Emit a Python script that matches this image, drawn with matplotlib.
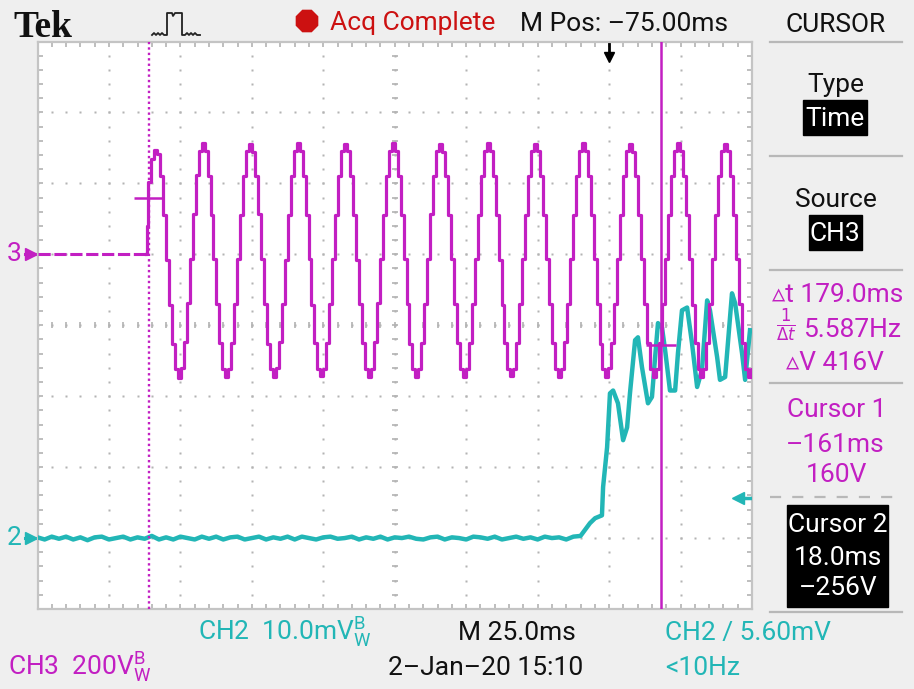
import numpy as np
import matplotlib
matplotlib.use("Agg")
import matplotlib.pyplot as plt
from matplotlib.patches import Rectangle, RegularPolygon
from matplotlib.transforms import blended_transform_factory, IdentityTransform

# ---------------- data ----------------
time_range_ms = [-200.0, 50.0]      # 10 div x 25 ms, centre at M Pos -75 ms
ms_per_div = 25.0
m_pos_ms = -75.00
ch3_volts_per_div = 200.0
ch2_mv_per_div = 10.0
ch3_offset_div = 1.0
ch2_offset_div = -3.0

# CH3 (magenta) - flat before the event, then 60 Hz mains
ch3_pre_t = [-200.0, -161.9]
ch3_pre_v = [0.0, 0.0]
ch3_t0 = -161.8          # first sample time (ms)
ch3_dt = 1.039           # sample spacing on the screen (ms)
ch3_volts = [
    80, 205, 268,
    293, 284, 222, 110, -16, -142, -252, -324, -348, -320, -248, -138, -12, 114, 224, 292,
    313, 290, 220, 112, -14, -140, -250, -322, -346, -322, -250, -140, -14, 112, 222, 290,
    312, 288, 222, 114, -12, -140, -252, -324, -346, -320, -248, -140, -16, 110, 220, 290,
    314, 290, 220, 112, -14, -142, -250, -322, -344, -322, -250, -140, -14, 112, 222, 292,
    312, 290, 222, 110, -16, -140, -250, -322, -346, -322, -248, -138, -14, 112, 222, 290,
    313, 290, 220, 112, -14, -140, -252, -324, -346, -322, -250, -140, -12, 114, 222, 290,
    312, 288, 222, 112, -14, -140, -250, -322, -346, -322, -250, -140, -14, 112, 220, 290,
    314, 290, 220, 112, -16, -142, -250, -322, -344, -322, -250, -140, -14, 112, 222, 292,
    312, 290, 222, 110, -14, -140, -250, -324, -346, -322, -248, -140, -14, 112, 222, 290,
    313, 290, 220, 112, -14, -140, -252, -322, -346, -320, -250, -140, -14, 112, 222, 290,
    312, 288, 222, 112, -14, -140, -250, -322, -346, -322, -250, -140, -14, 112, 220, 290,
    314, 290, 220, 112, -14, -142, -250, -322, -346, -322, -250, -140, -14, 112, 222, 292,
    312, 290, 222, 112, -14, -140, -250, -322, -346, -324,
]

# CH2 (cyan) - noisy baseline, then the step response
ch2_base_t0 = -200.0
ch2_base_dt = 2.5
ch2_base_mv = [0.1, -0.2, 0.2, -0.1, 0.2, -0.2, 0.1, -0.3, 0.1, 0.2, -0.2, 0.0, 0.2,
               -0.2, 0.1, -0.1, 0.3, -0.2, 0.1, -0.2, 0.2, 0.0, -0.2, 0.2, -0.1, 0.2,
               -0.2, 0.1, 0.2, -0.2, 0.0, 0.2, -0.2, 0.1, -0.1, 0.2, -0.2, 0.2, 0.0,
               -0.2, 0.1, 0.2, -0.1, 0.0, 0.2, -0.2, 0.1, -0.1, 0.2, -0.2, 0.1, 0.0,
               0.2, -0.1, -0.2, 0.1, 0.2, -0.2, 0.1, 0.0, -0.2, 0.2, 0.1, -0.1, 0.2,
               -0.2, 0.0, 0.2, -0.1, 0.1, -0.2, 0.2, 0.0, 0.1, -0.2, 0.2, 0.3]
ch2_edge_t = [-6.7, -4.9, -2.5, -2.1, -0.7, 0.3, 1.4, 3.1, 4.9, 6.3, 7.3, 9.1, 10.1,
              11.5, 13.6, 15.0, 16.1, 17.1, 18.5, 19.6, 21.3, 23.1, 24.1, 25.5, 27.3,
              29.0, 30.8, 32.5, 34.3, 35.3, 37.8, 38.8, 40.6, 43.0, 44.1, 46.5, 47.6, 49.3]
ch2_edge_mv = [2.1, 2.8, 3.2, 7.2, 12.8, 20.4, 20.8, 19.0, 13.8, 15.6, 20.4, 27.9, 28.3,
               24.1, 19.0, 19.9, 25.5, 30.3, 29.7, 26.5, 20.8, 20.8, 26.1, 32.1, 32.5,
               27.5, 21.3, 23.7, 33.5, 32.1, 25.5, 22.3, 22.7, 34.5, 33.1, 26.1, 22.3, 29.3]

cursor1_t, cursor1_v = -161.0, 160.0
cursor2_t, cursor2_v = 18.0, -256.0
trigger_t = 0.0
trigger_level_mv = 5.60
date_text = "2\u2013Jan\u201320 15:10"
trig_freq_text = "<10Hz"

# ---------------- styling ----------------
MAG = "#c21fc2"
CYN = "#22b6b6"
RED = "#cc1111"
GRAY_BG = "#efefef"
GRID = "#b3b3b3"
FONT = ["Roboto", "DejaVu Sans"]
FS = 19

W, H = 914, 689
fig = plt.figure(figsize=(W / 100, H / 100), dpi=100, facecolor=GRAY_BG)

L, R, T, B = 37.5, 752.0, 41.5, 609.0
ax = fig.add_axes([L / W, 1 - B / H, (R - L) / W, (B - T) / H])
t_lo, t_hi = time_range_ms
ax.set_xlim(t_lo, t_hi)
ax.set_ylim(-4, 4)
ax.set_facecolor("white")
ax.set_xticks([])
ax.set_yticks([])
for s in ax.spines.values():
    s.set_color("#c4c4c4")
    s.set_linewidth(1.6)

px_x = (t_hi - t_lo) / (R - L)   # ms per pixel
px_y = 8.0 / (B - T)             # div per pixel
center_t = m_pos_ms

# graticule
xdiv = np.arange(t_lo, t_hi + 1e-9, ms_per_div)
ydiv = np.arange(-4, 4.001, 1.0)
x_minor = np.arange(t_lo, t_hi + 1e-9, ms_per_div / 5)
y_minor = np.arange(-4, 4.001, 0.2)
for xv in xdiv[1:-1]:
    ax.plot(np.full_like(y_minor, xv), y_minor, ls="none", marker="s", ms=1.7,
            mfc=GRID, mec="none", zorder=1)
for yv in ydiv[1:-1]:
    ax.plot(x_minor, np.full_like(x_minor, yv), ls="none", marker="s", ms=1.7,
            mfc=GRID, mec="none", zorder=1)
tk = 5
ax.vlines(x_minor, -4, -4 + tk * px_y, color=GRID, lw=1.2, zorder=1)
ax.vlines(x_minor, 4 - tk * px_y, 4, color=GRID, lw=1.2, zorder=1)
ax.hlines(y_minor, t_lo, t_lo + tk * px_x, color=GRID, lw=1.2, zorder=1)
ax.hlines(y_minor, t_hi - tk * px_x, t_hi, color=GRID, lw=1.2, zorder=1)
ax.vlines(x_minor, -3 * px_y, 3 * px_y, color=GRID, lw=1.2, zorder=1)
ax.hlines(y_minor, center_t - 3 * px_x, center_t + 3 * px_x, color=GRID, lw=1.2, zorder=1)

# CH2 trace
ch2_base_t = ch2_base_t0 + ch2_base_dt * np.arange(len(ch2_base_mv))
ch2_t_all = np.concatenate([ch2_base_t, ch2_edge_t])
ch2_v_all = np.concatenate([ch2_base_mv, ch2_edge_mv])
ax.plot(ch2_t_all, ch2_offset_div + ch2_v_all / ch2_mv_per_div, color=CYN, lw=3.2,
        zorder=3)

# CH3 trace
ax.plot(ch3_pre_t, ch3_offset_div + np.array(ch3_pre_v) / ch3_volts_per_div, color=MAG,
        lw=2.2, ls=(0, (4, 1.2)), zorder=4)
ch3_t = ch3_t0 + ch3_dt * np.arange(len(ch3_volts))
st = np.concatenate([[ch3_pre_t[-1]], ch3_t])
sv = np.concatenate([[ch3_pre_v[-1]], ch3_volts])
ax.plot(st, ch3_offset_div + sv / ch3_volts_per_div, color=MAG, lw=2.3,
        drawstyle="steps-mid", zorder=4)

# cursors
ax.axvline(cursor1_t, color=MAG, lw=1.7, ls=(0, (1, 1.3)), zorder=5)
ax.axvline(cursor2_t, color=MAG, lw=1.8, zorder=5)
for ct, cv in [(cursor1_t, cursor1_v), (cursor2_t, cursor2_v)]:
    yv = ch3_offset_div + cv / ch3_volts_per_div
    ax.hlines(yv, ct - 15 * px_x, ct + 15 * px_x, color=MAG, lw=1.8, zorder=5)

# trigger position arrow (top) and trigger level arrow (right)
ax.plot([trigger_t, trigger_t], [4 - 2 * px_y, 4 - 14 * px_y], color="black", lw=2,
        zorder=6, clip_on=False)
ax.plot([trigger_t], [4 - 15 * px_y], marker="v", ms=7, color="black", zorder=6)
yl = ch2_offset_div + trigger_level_mv / ch2_mv_per_div
ax.plot([t_hi - 14 * px_x, t_hi - 2 * px_x], [yl, yl], color=CYN, lw=2.5, zorder=6)
ax.plot([t_hi - 14 * px_x], [yl], marker="<", ms=9, color=CYN, zorder=6)

# ground markers on the left
btr = blended_transform_factory(IdentityTransform(), ax.transData)
for lab, off, col in [("3", ch3_offset_div, MAG), ("2", ch2_offset_div, CYN)]:
    ax.text(14, off, lab, transform=btr, ha="center", va="center", color=col,
            fontsize=19, family=FONT, clip_on=False)
    ax.plot([25, 35], [off, off], transform=btr, color=col, lw=2.2, clip_on=False)
    ax.plot([31], [off], transform=btr, marker=">", ms=8, color=col, clip_on=False)

# ---------------- overlay: header, side panel, footer ----------------
ov = fig.add_axes([0, 0, 1, 1])
ov.set_xlim(0, W)
ov.set_ylim(H, 0)
ov.axis("off")


def txt(x, y, s, color="#111111", ha="left", size=FS, **kw):
    ov.text(x, y, s, color=color, fontsize=size, family=FONT, va="baseline", ha=ha, **kw)


ov.text(13, 37, "Tek", family=["Liberation Serif", "DejaVu Serif"], weight="bold",
        fontsize=27, va="baseline", ha="left", color="#111111")
pulse = [(152, 35), (154, 33), (156, 35), (158, 33), (160, 35), (162, 33), (164, 35),
         (167, 35), (167, 13), (172, 13), (173, 16), (175, 13), (182, 13), (182, 35),
         (185, 35), (187, 33), (189, 35), (191, 33), (193, 35), (195, 33), (197, 35), (200, 35)]
ov.plot([p[0] for p in pulse], [p[1] for p in pulse], color="#222222", lw=1.3)
ov.add_patch(RegularPolygon((307, 21), numVertices=8, radius=11.5, orientation=np.pi / 8,
                            color=RED))
txt(330, 30, "Acq Complete", color=RED)
txt(520, 31, "M Pos: \u2013%.2fms" % abs(m_pos_ms))
txt(836, 32, "CURSOR", ha="center")

# side panel separators
for yy in [42, 156, 270, 383, 612]:
    ov.plot([770, 902], [yy, yy], color="#b8b8b8", lw=1.6)
ov.plot([770, 902], [497, 497], color="#b8b8b8", lw=1.6, ls=(0, (5, 5)))

txt(836, 92, "Type", ha="center")
ov.add_patch(Rectangle((803, 100), 64, 35, color="black"))
txt(835, 126, "Time", color="white", ha="center")
txt(836, 207, "Source", ha="center")
ov.add_patch(Rectangle((809, 215), 53, 35, color="black"))
txt(835, 241, "CH3", color="white", ha="center")

dt_ms = cursor2_t - cursor1_t
dv = abs(cursor2_v - cursor1_v)
txt(838, 302, "\u25b5t %.1fms" % dt_ms, color=MAG, ha="center")
ov.text(786, 325, r"$\frac{1}{\Delta t}$", color=MAG, fontsize=17, va="center",
        ha="center")
txt(803, 337, "%.3fHz" % (1000.0 / dt_ms), color=MAG)
txt(835, 370, "\u25b5V %dV" % dv, color=MAG, ha="center")
txt(837, 417, "Cursor 1", color=MAG, ha="center")
txt(835, 452, "\u2013%dms" % abs(cursor1_t), color=MAG, ha="center")
txt(836, 482, "%dV" % cursor1_v, color=MAG, ha="center")
ov.add_patch(Rectangle((787, 505), 101, 102, color="black"))
txt(838, 532, "Cursor 2", color="white", ha="center")
txt(838, 565, "%.1fms" % cursor2_t, color="white", ha="center")
txt(838, 595, "\u2013%dV" % abs(cursor2_v), color="white", ha="center")

# footer
BW = r"$\mathregular{^B_W}$"
txt(198, 640, "CH2  %.1fmV" % ch2_mv_per_div + BW, color=CYN)
txt(458, 640, "M %.1fms" % ms_per_div)
txt(665, 640, "CH2 / %.2fmV" % trigger_level_mv, color=CYN)
txt(8, 675, "CH3  %dV" % ch3_volts_per_div + BW, color=MAG)
txt(388, 675, date_text)
txt(665, 675, trig_freq_text, color=CYN)

fig.savefig("out.png", dpi=100, facecolor=GRAY_BG)
